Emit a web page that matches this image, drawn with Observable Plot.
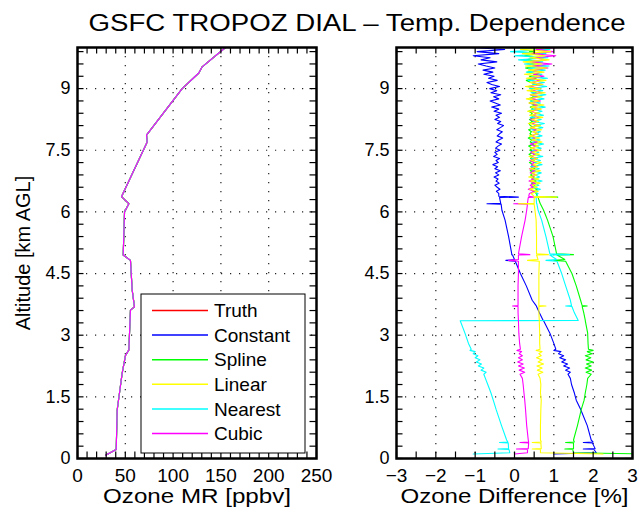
<!DOCTYPE html>
<html>
<head>
<meta charset="utf-8">
<script src="https://cdn.jsdelivr.net/npm/d3@7"></script>
<script src="https://cdn.jsdelivr.net/npm/@observablehq/plot@0.6"></script>
<style>
  body { margin: 0; background: #fff; }
  #wrap { position: relative; width: 639px; height: 513px; overflow: hidden; background: #fff;
          font-family: "Liberation Sans", Arial, Helvetica, sans-serif; }
  #wrap > svg { position: absolute; top: 0; }
</style>
</head>
<body>
<div id="wrap"></div>
<script>
// ---------------- DATA ----------------
const seriesNames  = ["Truth", "Constant", "Spline", "Linear", "Nearest", "Cubic"];
const seriesColors = ["#ff0000", "#0000ff", "#00ff00", "#ffff00", "#00ffff", "#ff00ff"];

// Left panel: ozone mixing ratio profile (all methods overlay the truth)
const mrAlt   = [0.08, 0.22, 1.18, 2.07, 2.51, 2.64, 3.61, 3.69, 4.1, 4.82, 4.95, 6.0, 6.2, 6.37, 7.7, 7.87, 8.31, 9.0, 9.38, 9.53, 10.0];
const mrValue = [29.3, 40.5, 41.5, 46.7, 50.2, 53.7, 55.4, 59.6, 57.2, 55.4, 47.8, 49.2, 53.7, 46.0, 72.9, 72.2, 86.8, 109.5, 126.9, 130.4, 154.8];

// Tick labels
const xTicksMR   = [0, 50, 100, 150, 200, 250];
const xTicksDiff = [-3, -2, -1, 0, 1, 2, 3];
const yTicksAlt  = [0, 1.5, 3, 4.5, 6, 7.5, 9];

// Right panel: altitude grid [km] for the ozone differences
const altDiff = [
  0.11, 0.14, 0.22, 0.23, 0.24, 0.38, 0.39, 0.40, 0.45, 0.8,
  1.2, 1.42, 1.6, 1.8, 1.95, 2.05, 2.1, 2.15, 2.2, 2.25,
  2.3, 2.35, 2.4, 2.45, 2.5, 2.55, 2.6, 2.63, 2.66, 2.8,
  3.05, 3.35, 3.36, 3.55, 3.7, 3.71, 3.72, 3.85, 4.2, 4.5,
  4.8, 4.82, 4.84, 4.95, 4.96, 4.98, 5.4, 5.8, 6.04, 6.19,
  6.2, 6.21, 6.35, 6.36, 6.38,
  6.45, 6.50, 6.55, 6.60, 6.65, 6.70, 6.75, 6.80, 6.85, 6.90,
  6.95, 7.00, 7.05, 7.10, 7.15, 7.20, 7.25, 7.30, 7.35, 7.40,
  7.45, 7.50, 7.55, 7.60, 7.65, 7.70, 7.75, 7.80, 7.85, 7.90,
  7.95, 8.00, 8.05, 8.10, 8.15, 8.20, 8.25, 8.30, 8.35, 8.40,
  8.45, 8.50, 8.55, 8.60, 8.65, 8.70, 8.75, 8.80, 8.85, 8.90,
  8.95, 9.00, 9.05, 9.10, 9.15, 9.20, 9.25, 9.30, 9.35, 9.40,
  9.45, 9.50, 9.55, 9.60, 9.65, 9.70, 9.75, 9.80, 9.85, 9.90,
  9.95, 10.00
];

// Ozone difference [%] per method
const diffConstant = [
  1.0, 2.08, 2.02, 1.75, 2.05, 1.98, 1.75, 2.0, 1.95, 1.85,
  1.68, 1.57, 1.52, 1.45, 1.42, 1.36, 1.42, 1.3, 1.4, 1.25,
  1.35, 1.2, 1.3, 1.15, 1.25, 1.12, 1.18, 1.0, 1.05, 1.0,
  0.9, 0.74, 0.73, 0.63, 0.56, 0.56, 0.55, 0.45, 0.3, 0.15,
  0.02, -0.22, 0.0, -0.05, -0.07, -0.07, -0.15, -0.24, -0.32, -0.34,
  -0.7, -0.35, -0.38, 0.1, -0.4,
  -0.40, -0.46, -0.37, -0.44, -0.50, -0.39, -0.47, -0.42, -0.52, -0.40,
  -0.48, -0.36, -0.50, -0.43, -0.55, -0.41, -0.47, -0.38, -0.53, -0.44,
  -0.50, -0.37, -0.48, -0.42, -0.33, -0.47, -0.40, -0.30, -0.44, -0.38,
  -0.31, -0.45, -0.36, -0.28, -0.43, -0.35, -0.50, -0.38, -0.47, -0.33,
  -0.52, -0.40, -0.58, -0.36, -0.49, -0.62, -0.40, -0.53, -0.35, -0.60,
  -0.45, -0.63, -0.38, -0.58, -0.70, -0.44, -0.66, -0.52, -0.78, -0.55,
  -0.80, -0.50, -0.72, -0.92, -0.45, -0.85, -0.62, -1.05, -0.40, -0.95,
  -0.25, -1.10
];
const diffSpline = [
  3.3, 1.5, 1.48, 1.28, 1.5, 1.5, 1.3, 1.52, 1.5, 1.6,
  1.7, 1.77, 1.8, 1.84, 1.86, 1.95, 1.82, 1.96, 1.8, 1.95,
  1.83, 2.0, 1.82, 1.94, 1.8, 1.97, 1.85, 2.0, 1.88, 1.87,
  1.86, 1.8, 1.8, 1.76, 1.72, 1.85, 1.72, 1.68, 1.57, 1.46,
  1.3, 1.0, 1.28, 1.08, 1.5, 1.07, 0.98, 0.84, 0.74, 0.66,
  0.66, 0.65, 0.6, 1.1, 0.58,
  0.55, 0.48, 0.58, 0.46, 0.52, 0.43, 0.55, 0.44, 0.50, 0.41,
  0.49, 0.40, 0.52, 0.42, 0.47, 0.38, 0.50, 0.41, 0.46, 0.37,
  0.48, 0.39, 0.45, 0.36, 0.50, 0.40, 0.44, 0.35, 0.47, 0.39,
  0.43, 0.36, 0.49, 0.40, 0.37, 0.46, 0.38, 0.50, 0.41, 0.45,
  0.36, 0.48, 0.40, 0.53, 0.38, 0.46, 0.35, 0.50, 0.42, 0.55,
  0.40, 0.52, 0.35, 0.58, 0.42, 0.30, 0.55, 0.38, 0.60, 0.33,
  0.52, 0.28, 0.60, 0.40, 0.65, 0.30, 0.55, 0.25, 0.62, 0.38,
  0.70, 0.35
];
const diffLinear = [
  2.25, 0.66, 0.66, 0.45, 0.68, 0.67, 0.45, 0.68, 0.66, 0.66,
  0.67, 0.68, 0.66, 0.67, 0.65, 0.6, 0.72, 0.58, 0.7, 0.57,
  0.74, 0.6, 0.7, 0.56, 0.68, 0.62, 0.7, 0.55, 0.65, 0.64,
  0.64, 0.63, 0.63, 0.62, 0.62, 0.8, 0.62, 0.62, 0.62, 0.62,
  0.63, 0.33, 0.6, 0.56, 0.86, 0.56, 0.56, 0.55, 0.52, 0.5,
  0.1, 0.5, 0.5, 1.07, 0.5,
  0.42, 0.60, 0.38, 0.58, 0.45, 0.65, 0.40, 0.62, 0.36, 0.57,
  0.44, 0.66, 0.39, 0.60, 0.47, 0.68, 0.42, 0.59, 0.37, 0.63,
  0.45, 0.67, 0.40, 0.61, 0.50, 0.70, 0.43, 0.64, 0.38, 0.60,
  0.46, 0.69, 0.40, 0.66, 0.35, 0.62, 0.44, 0.72, 0.38, 0.65,
  0.33, 0.68, 0.42, 0.75, 0.36, 0.63, 0.30, 0.70, 0.40, 0.78,
  0.32, 0.66, 0.28, 0.72, 0.38, 0.80, 0.30, 0.65, 0.25, 0.75,
  0.35, 0.82, 0.28, 0.70, 0.22, 0.88, 0.40, 0.78, 0.20, 0.92,
  0.15, 0.98
];
const diffNearest = [
  -1.05, -0.12, -0.14, -0.42, -0.15, -0.16, -0.38, -0.17, -0.2, -0.33,
  -0.47, -0.54, -0.6, -0.68, -0.74, -0.78, -0.72, -0.85, -0.78, -0.92,
  -0.84, -0.97, -0.88, -1.0, -0.93, -1.05, -1.0, -1.13, -1.1, -1.17,
  -1.26, -1.38, 1.62, 1.52, 1.46, 1.3, 1.45, 1.42, 1.3, 1.2,
  1.08, 0.8, 1.07, 0.9, 1.4, 0.9, 0.8, 0.69, 0.6, 0.57,
  0.57, 0.56, 0.55, 0.9, 0.55,
  0.60, 0.48, 0.66, 0.45, 0.62, 0.50, 0.70, 0.47, 0.64, 0.52,
  0.68, 0.46, 0.63, 0.42, 0.70, 0.50, 0.66, 0.44, 0.72, 0.48,
  0.62, 0.45, 0.68, 0.50, 0.74, 0.46, 0.65, 0.42, 0.70, 0.52,
  0.66, 0.44, 0.72, 0.50, 0.76, 0.47, 0.68, 0.40, 0.74, 0.52,
  0.70, 0.45, 0.78, 0.50, 0.66, 0.40, 0.75, 0.48, 0.80, 0.42,
  0.72, 0.38, 0.82, 0.46, 0.76, 0.35, 0.84, 0.44, 0.70, 0.30,
  0.78, 0.35, 0.88, 0.25, 0.72, 0.10, 0.85, 0.00, 0.80, -0.10,
  0.90, -0.05
];
const diffCubic = [
  0.0, 0.33, 0.33, 0.05, 0.35, 0.36, 0.14, 0.36, 0.35, 0.31,
  0.28, 0.26, 0.24, 0.22, 0.2, 0.14, 0.26, 0.12, 0.25, 0.1,
  0.22, 0.08, 0.2, 0.1, 0.2, 0.12, 0.18, 0.06, 0.15, 0.13,
  0.11, 0.1, 0.1, 0.09, 0.09, -0.05, 0.09, 0.09, 0.09, 0.1,
  0.1, -0.15, 0.1, 0.1, 0.39, 0.1, 0.18, 0.27, 0.31, 0.33,
  -0.02, 0.33, 0.35, 0.5, 0.36,
  0.38, 0.50, 0.35, 0.47, 0.40, 0.53, 0.37, 0.49, 0.42, 0.55,
  0.40, 0.52, 0.38, 0.56, 0.43, 0.50, 0.39, 0.57, 0.44, 0.51,
  0.41, 0.58, 0.45, 0.53, 0.40, 0.59, 0.46, 0.52, 0.42, 0.60,
  0.47, 0.55, 0.41, 0.62, 0.45, 0.57, 0.40, 0.63, 0.48, 0.56,
  0.42, 0.65, 0.46, 0.58, 0.38, 0.66, 0.44, 0.60, 0.40, 0.70,
  0.46, 0.62, 0.38, 0.72, 0.44, 0.66, 0.36, 0.75, 0.48, 0.68,
  0.40, 0.85, 0.45, 0.95, 0.38, 0.80, 0.50, 1.05, 0.42, 0.98,
  0.55, 1.10
];

// ---------------- BUILD TABLES ----------------
const mrRows = [];
for (const s of seriesNames) mrAlt.forEach((a, i) => mrRows.push({series: s, alt: a, mr: mrValue[i]}));

const diffBySeries = {Constant: diffConstant, Spline: diffSpline, Nearest: diffNearest, Cubic: diffCubic, Linear: diffLinear};
const diffRows = [];
for (const [s, vals] of Object.entries(diffBySeries)) {
  if (vals.length !== altDiff.length) console.error(s, vals.length, altDiff.length);
  altDiff.forEach((a, i) => diffRows.push({series: s, alt: a, diff: vals[i]}));
}

// ---------------- LAYOUT ----------------
const FONT = "'Liberation Sans', Arial, Helvetica, sans-serif";
const H = 513, MT = 47, MB = 55;
const innerH = H - MT - MB;
const fmt = d => d < 0 ? "\u2212" + Math.abs(d) : String(d);
const gridStyle = {stroke: "#222", strokeWidth: 1.2, strokeDasharray: "1.2,7.8"};

function inwardTicks(xMinor, yMinor, innerW) {
  const len = 6.5;
  return [
    Plot.tickX(xMinor, {x: d => d, insetTop: innerH - len, stroke: "#000", strokeWidth: 1.2}),
    Plot.tickX(xMinor, {x: d => d, insetBottom: innerH - len, stroke: "#000", strokeWidth: 1.2}),
    Plot.tickY(yMinor, {y: d => d, insetRight: innerW - len, stroke: "#000", strokeWidth: 1.2}),
    Plot.tickY(yMinor, {y: d => d, insetLeft: innerW - len, stroke: "#000", strokeWidth: 1.2})
  ];
}
const yMinor = d3.range(0, 10, 0.3).map(v => +v.toFixed(2));

// Left panel
const LW = 330, LML = 77, LMR = 14;
const left = Plot.plot({
  width: LW, height: H, marginLeft: LML, marginRight: LMR, marginTop: MT, marginBottom: MB,
  x: {domain: [0, 250]},
  y: {domain: [0, 10]},
  color: {domain: seriesNames, range: seriesColors},
  style: {fontFamily: FONT, color: "#000", background: "transparent", overflow: "visible"},
  marks: [
    Plot.ruleX(xTicksMR.slice(1, -1), gridStyle),
    Plot.ruleY(yTicksAlt.slice(1), gridStyle),
    Plot.line(mrRows, {x: "mr", y: "alt", z: "series", stroke: "series", strokeWidth: 1.1}),
    ...inwardTicks(d3.range(0, 251, 10), yMinor, LW - LML - LMR),
    Plot.frame({stroke: "#000", strokeWidth: 2.5}),
    Plot.axisX({ticks: xTicksMR, tickSize: 0, tickPadding: 10, fontSize: 19, tickFormat: fmt, label: null}),
    Plot.axisY({ticks: yTicksAlt, tickSize: 0, tickPadding: 7, fontSize: 18, tickFormat: fmt, label: null}),
    Plot.text(["Ozone MR [ppbv]"], {text: d => d, frameAnchor: "bottom", lineAnchor: "middle", textAnchor: "middle", dy: 38, fontSize: 21}),
    Plot.text(["Altitude [km AGL]"], {text: d => d, frameAnchor: "left", lineAnchor: "middle", textAnchor: "middle", rotate: -90, dx: -54, fontSize: 20})
  ]
});

// Right panel
const RW = 309, RML = 66, RMR = 7;
const right = Plot.plot({
  width: RW, height: H, marginLeft: RML, marginRight: RMR, marginTop: MT, marginBottom: MB,
  x: {domain: [-3, 3]},
  y: {domain: [0, 10]},
  color: {domain: seriesNames, range: seriesColors},
  style: {fontFamily: FONT, color: "#000", background: "transparent", overflow: "visible"},
  marks: [
    Plot.ruleX(xTicksDiff.slice(1, -1), gridStyle),
    Plot.ruleY(yTicksAlt.slice(1), gridStyle),
    Plot.line(diffRows, {x: "diff", y: "alt", z: "series", stroke: "series", strokeWidth: 1.1, clip: true}),
    ...inwardTicks(d3.range(-3, 3.01, 0.5), yMinor, RW - RML - RMR),
    Plot.frame({stroke: "#000", strokeWidth: 2.5}),
    Plot.axisX({ticks: xTicksDiff, tickSize: 0, tickPadding: 10, fontSize: 19, tickFormat: fmt, label: null}),
    Plot.axisY({ticks: yTicksAlt, tickSize: 0, tickPadding: 7, fontSize: 18, tickFormat: fmt, label: null}),
    Plot.text(["Ozone Difference [%]"], {text: d => d, frameAnchor: "bottom", lineAnchor: "middle", textAnchor: "middle", dy: 38, fontSize: 21})
  ]
});

const wrap = document.getElementById("wrap");
left.style.left = "0px";
right.style.left = LW + "px";
wrap.appendChild(left);
wrap.appendChild(right);

// stretch axis labels horizontally like the reference
function stretch(svg, label, len) {
  d3.select(svg).selectAll("text").filter(function () { return this.textContent === label; })
    .attr("textLength", len).attr("lengthAdjust", "spacingAndGlyphs");
}
stretch(left, "Ozone MR [ppbv]", 188);
stretch(right, "Ozone Difference [%]", 228);

// Overlay: title + legend
const ov = d3.select(wrap).append("svg")
  .attr("width", 639).attr("height", 513)
  .style("left", "0px").style("pointer-events", "none")
  .style("font-family", FONT);

ov.append("text")
  .attr("x", 357).attr("y", 31)
  .attr("text-anchor", "middle")
  .attr("font-size", 23)
  .attr("textLength", 537).attr("lengthAdjust", "spacingAndGlyphs")
  .text("GSFC TROPOZ DIAL \u2013 Temp. Dependence");

const lg = ov.append("g");
lg.append("rect").attr("x", 141).attr("y", 294).attr("width", 164).attr("height", 159)
  .attr("fill", "#fff").attr("stroke", "#000").attr("stroke-width", 1);
seriesNames.forEach((name, i) => {
  const cy = 310.5 + i * 24.6;
  lg.append("line").attr("x1", 152).attr("x2", 208).attr("y1", cy).attr("y2", cy)
    .attr("stroke", seriesColors[i]).attr("stroke-width", 1.5);
  lg.append("text").attr("x", 214).attr("y", cy).attr("dy", "0.35em")
    .attr("font-size", 19).text(name);
});
</script>
</body>
</html>
